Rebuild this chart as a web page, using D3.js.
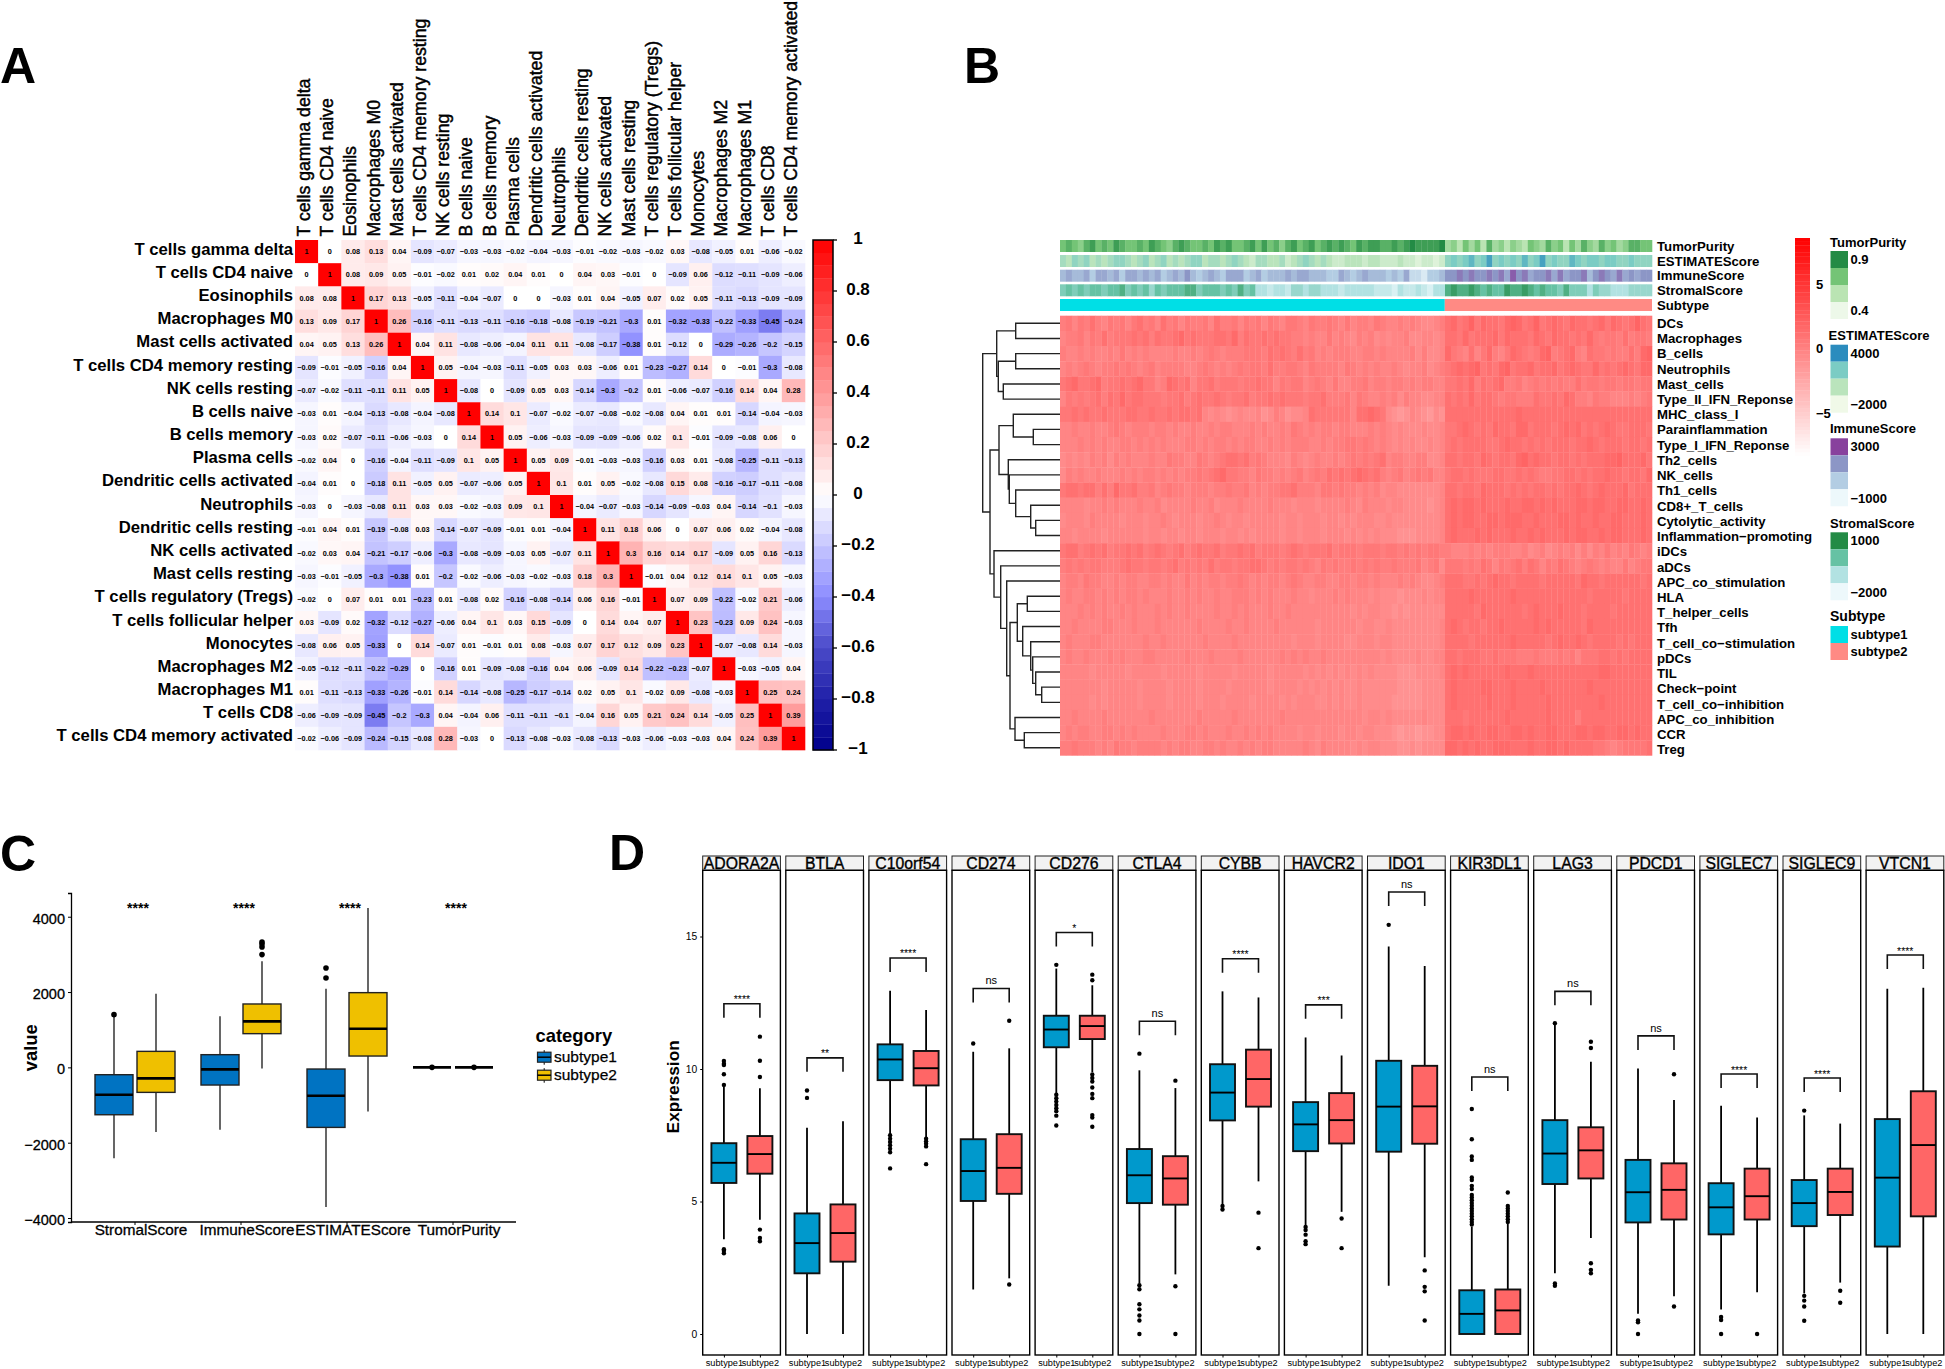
<!DOCTYPE html>
<html><head><meta charset="utf-8">
<script src="https://cdnjs.cloudflare.com/ajax/libs/d3/7.8.5/d3.min.js"></script>
<style>
html,body{margin:0;padding:0;background:#fff}
svg{display:block}
text{font-family:"Liberation Sans",Arial,sans-serif;fill:#000}
</style></head><body>
<svg id="chart" width="1945" height="1369"></svg>
<script>
// ---------- Panel A data ----------
const cellTypes=["T cells gamma delta","T cells CD4 naive","Eosinophils","Macrophages M0","Mast cells activated","T cells CD4 memory resting","NK cells resting","B cells naive","B cells memory","Plasma cells","Dendritic cells activated","Neutrophils","Dendritic cells resting","NK cells activated","Mast cells resting","T cells regulatory (Tregs)","T cells follicular helper","Monocytes","Macrophages M2","Macrophages M1","T cells CD8","T cells CD4 memory activated"];
const corrRows=[
[1,0,.08,.13,.04,-.09,-.07,-.03,-.03,-.02,-.04,-.03,-.01,-.02,-.03,-.02,.03,-.08,-.05,.01,-.06,-.02],
[0,1,.08,.09,.05,-.01,-.02,.01,.02,.04,.01,0,.04,.03,-.01,0,-.09,.06,-.12,-.11,-.09,-.06],
[.08,.08,1,.17,.13,-.05,-.11,-.04,-.07,0,0,-.03,.01,.04,-.05,.07,.02,.05,-.11,-.13,-.09,-.09],
[.13,.09,.17,1,.26,-.16,-.11,-.13,-.11,-.16,-.18,-.08,-.19,-.21,-.3,.01,-.32,-.33,-.22,-.33,-.45,-.24],
[.04,.05,.13,.26,1,.04,.11,-.08,-.06,-.04,.11,.11,-.08,-.17,-.38,.01,-.12,0,-.29,-.26,-.2,-.15],
[-.09,-.01,-.05,-.16,.04,1,.05,-.04,-.03,-.11,-.05,.03,.03,-.06,.01,-.23,-.27,.14,0,-.01,-.3,-.08],
[-.07,-.02,-.11,-.11,.11,.05,1,-.08,0,-.09,.05,.03,-.14,-.3,-.2,.01,-.06,-.07,-.16,.14,.04,.28],
[-.03,.01,-.04,-.13,-.08,-.04,-.08,1,.14,.1,-.07,-.02,-.07,-.08,-.02,-.08,.04,.01,.01,-.14,-.04,-.03],
[-.03,.02,-.07,-.11,-.06,-.03,0,.14,1,.05,-.06,-.03,-.09,-.09,-.06,.02,.1,-.01,-.09,-.08,.06,0],
[-.02,.04,0,-.16,-.04,-.11,-.09,.1,.05,1,.05,.09,-.01,-.03,-.03,-.16,.03,.01,-.08,-.25,-.11,-.13],
[-.04,.01,0,-.18,.11,-.05,.05,-.07,-.06,.05,1,.1,.01,.05,-.02,-.08,.15,.08,-.16,-.17,-.11,-.08],
[-.03,0,-.03,-.08,.11,.03,.03,-.02,-.03,.09,.1,1,-.04,-.07,-.03,-.14,-.09,-.03,.04,-.14,-.1,-.03],
[-.01,.04,.01,-.19,-.08,.03,-.14,-.07,-.09,-.01,.01,-.04,1,.11,.18,.06,0,.07,.06,.02,-.04,-.08],
[-.02,.03,.04,-.21,-.17,-.06,-.3,-.08,-.09,-.03,.05,-.07,.11,1,.3,.16,.14,.17,-.09,.05,.16,-.13],
[-.03,-.01,-.05,-.3,-.38,.01,-.2,-.02,-.06,-.03,-.02,-.03,.18,.3,1,-.01,.04,.12,.14,.1,.05,-.03],
[-.02,0,.07,.01,.01,-.23,.01,-.08,.02,-.16,-.08,-.14,.06,.16,-.01,1,.07,.09,-.22,-.02,.21,-.06],
[.03,-.09,.02,-.32,-.12,-.27,-.06,.04,.1,.03,.15,-.09,0,.14,.04,.07,1,.23,-.23,.09,.24,-.03],
[-.08,.06,.05,-.33,0,.14,-.07,.01,-.01,.01,.08,-.03,.07,.17,.12,.09,.23,1,-.07,-.08,.14,-.03],
[-.05,-.12,-.11,-.22,-.29,0,-.16,.01,-.09,-.08,-.16,.04,.06,-.09,.14,-.22,-.23,-.07,1,-.03,-.05,.04],
[.01,-.11,-.13,-.33,-.26,-.01,.14,-.14,-.08,-.25,-.17,-.14,.02,.05,.1,-.02,.09,-.08,-.03,1,.25,.24],
[-.06,-.09,-.09,-.45,-.2,-.3,.04,-.04,.06,-.11,-.11,-.1,-.04,.16,.05,.21,.24,.14,-.05,.25,1,.39],
[-.02,-.06,-.09,-.24,-.15,-.08,.28,-.03,0,-.13,-.08,-.03,-.08,-.13,-.03,-.06,-.03,-.03,.04,.24,.39,1]];
const corrTicks=[-1,-.8,-.6,-.4,-.2,0,.2,.4,.6,.8,1];

// ---------- Panel B data ----------
const geneSets=["DCs","Macrophages","B_cells","Neutrophils","Mast_cells","Type_II_IFN_Reponse","MHC_class_I","Parainflammation","Type_I_IFN_Reponse","Th2_cells","NK_cells","Th1_cells","CD8+_T_cells","Cytolytic_activity","Inflammation−promoting","iDCs","aDCs","APC_co_stimulation","HLA","T_helper_cells","Tfh","T_cell_co−stimulation","pDCs","TIL","Check−point","T_cell_co−inhibition","APC_co_inhibition","CCR","Treg"];
// hand-estimated shades along each row (0 pale .. 9 dark): subtype1 | subtype2
const heatRows=[
"56465754656467564756465564755646564654665465565464554654454543345|78679687768986796787687767868767976",
"45564657566676757667867666776857667676655454464543545343445334434|77686777868777687687767686566575665",
"54454544546454544445445456545556665767657564545554455454444535334|86547468546876568956785476656557589",
"45456545565654564555544565454565665755665465555465454544543445345|67878967689677867786787668676787688",
"67866785667678664587674667566656676646566456546445564554554545544|66768576785564565656557566566566566",
"46565675768677666566756766765667566767666566755564654454535443344|76768677656655576676875546554445456",
"66767667666776676676776743432343342354233476666664778763212432132|77777777777787777777777777777777777",
"44544544565455545545445445455444545445465454554554445454343334334|66787676877688677767878676787667776",
"44454545445545454544455454554545544545455544545566565454343433434|67677776678776767677767787677767767",
"34343545354544454465544654567767565444354345445456565674554455334|77677687677689787767767677788977786",
"35454454445454554545455656786655465545456456576767876754564565644|67767666776676765566776767787767768",
"67767757586675564565545554556556454556675554665655454534433333334|77677687776767677676778767877786777",
"44443445454445445344445445344454444544434443444454354443443333234|78788787778778878787778878877887787",
"34443544443444344543444344543443444443443444344343444334333333334|78788778878887787778878778778877787",
"44344443444444344344344344434434344443443444344434343433322233334|78777878777877878777878877878877787",
"67756767566767567656756766756676756665676566675666566656656565665|54445454555445345345453535464546545",
"56565665556766566567565657566566776565665654656556565655655564563|66656576465675764657654565454464566",
"45546554454554455454464545545565454554565445544554554544454543345|77766767877677776777776877677777767",
"45445545454554544454454544544555454544454434445454443433323334344|77778777777877777777777767777767777",
"44454545445454445454454444544545444544544444444443434433232333333|77777687777776787778777677776777777",
"44544445544454445444444544445445444454444443444444344334333333334|78767767787777787877777687777777777",
"45444554444444544544444454444544444444434443444433444344333333334|77776777777877777678778767777676777",
"45445444545444554444454445444454444445454544544444444434333343344|77677766766655565556564666776767777",
"44444344444344444344444344444344444344444343434343434333322233334|78787777778777877777777777887777777",
"44444443444443444434444344443444444344443434343433433333322223333|78777788777877778777777787777777777",
"44444343444443444434444344434444344443434443343433433333222223333|78777778777877777877777777877777777",
"44544445444444454444444544444544444445444444444444434434333334333|77767777778777777877775777777777777",
"45455445545454444544455454445445454544443443444344344333212212233|78878778877887877887778878877887877",
"55655545465545555454554455454454545544444543544443434433322323333|88787877888777877887877776654566667"];
const annotTumor="67657867687667687657876676878667868675786786787876878877878988889|45364637453543654756364754756457766";
const annotEstimate="43545343455434534534345534434543244334234543432233323322232212212|56567568565657568565576566566556555";
const annotImmune="45445355453554545345464345435553453444545544433543454443435221334|66767667675867566757566746765756566";
const annotStromal="56565665667565646566677566656575633233244344333233333222132232133|78778767668778767665755535443334444";
const subtypeLabels=["subtype1","subtype2"];
const subtypeCounts=[65,35];
// dendrogram: [merge height, left, right]; numbers at the tips index geneSets
const rowTree=[77.3,
 [63.3,[44.3,0,1],[61.7,[44.3,2,3],[56.7,4,5]]],
 [70,
  [61,[46.7,6,[26.7,7,8]],[51.7,9,[50.7,10,[44.3,11,[29.3,12,[24.3,13,14]]]]]],
  [66,15,[59.3,16,[53.3,17,[50,
    [42.7,[32.7,18,19],[37.3,20,[29.3,21,[27.3,22,[24.3,23,[18.3,24,25]]]]]],
    [45,26,[35.7,27,28]]]]]]]];
const heatLegendTicks=[5,0,-5];

// ---------- Panel C data ----------
const scoreCats=["StromalScore","ImmuneScore","ESTIMATEScore","TumorPurity"];
const scoreBox1=[[-2410,-1258,-726,-195,1355],[-1656,-469,-53,337,1355],[-3711,-1594,-753,-44,2090],[0,0,0,0,0]];
const scoreBox2=[[-1718,-664,-292,425,1957],[-27,895,1222,1683,2817],[-1169,301,1027,1984,4234],[0,0,0,0,0]];
const scoreOut1=[[1400],[],[2374,2640],[0]];
const scoreOut2=[[],[2994,3197,3277,3330],[],[0]];
const scoreSig=["****","****","****","****"];
const scoreTicks=[-4000,-2000,0,2000,4000];

// ---------- Panel D data ----------
const genes=["ADORA2A","BTLA","C10orf54","CD274","CD276","CTLA4","CYBB","HAVCR2","IDO1","KIR3DL1","LAG3","PDCD1","SIGLEC7","SIGLEC9","VTCN1"];
const exprSig=["****","**","****","ns","*","ns","****","***","ns","ns","ns","ns","****","****","****"];
const exprBracket=[12.46,10.42,14.19,13.04,15.15,11.8,14.16,12.42,16.68,9.7,12.93,11.25,9.81,9.66,14.3];
const exprBox1=[[3.58,5.7,6.46,7.2,9.35],[0,2.29,3.43,4.55,7.78],[7.53,9.58,10.36,10.93,12.95],[1.68,5.02,6.15,7.35,10.65],[9.09,10.82,11.49,12.01,13.79],[1.91,4.94,5.99,6.98,9.95],[4.89,8.06,9.11,10.18,12.93],[4.11,6.9,7.91,8.75,11.19],[1.82,6.88,8.58,10.31,14.62],[0,0,.76,1.65,4.05],[2.29,5.66,6.81,8.07,11.69],[.76,4.21,5.35,6.57,10.02],[.92,3.76,4.78,5.69,8.61],[1.53,4.07,4.94,5.81,8.25],[0,3.3,5.9,8.11,13.03]];
const exprBox2=[[4.31,6.05,6.79,7.47,9.27],[0,2.73,3.81,4.89,8.03],[7.41,9.38,10.03,10.68,12.23],[2.1,5.29,6.27,7.54,10.78],[9.88,11.13,11.62,12.01,13.16],[2.25,4.88,5.87,6.71,9.28],[5.76,8.58,9.62,10.73,12.7],[4.61,7.19,8.07,9.09,10.51],[2.9,7.18,8.59,10.12,13.89],[0,0,.89,1.68,4.19],[3.62,5.87,6.93,7.8,10.27],[1.42,4.32,5.44,6.44,8.83],[1.58,4.32,5.2,6.24,8.17],[1.94,4.49,5.36,6.24,7.94],[0,4.44,7.13,9.16,13.07]];
const exprOut1=[[10.3,10.2,10.15,9.8,9.4,3.2,3.14,3.05],[9.19,8.91],[7.5,7.37,7.25,7.12,6.99,6.86,6.25],[10.96],[13.93,9.03,8.9,8.77,8.64,8.52,8.41,8.24,7.87],[10.58,1.84,1.69,1.12,.93,.7,.51,0],[4.83,4.7],[4.04,3.92,3.75,3.5,3.39],[15.44],[8.49,7.35,6.7,6.57,5.91,5.81,5.59,5.47,5.25,5.15,5.05,4.94,4.84,4.74,4.64,4.54,4.44,4.33,4.23,4.13],[11.73,1.91,1.82],[.51,.44,0],[.64,.53,0],[8.43,1.44,1.26,1.04,.5],[]];
const exprOut2=[[11.22,10.31,9.7,3.94,3.62,3.5],[],[7.37,7.27,7.18,7.08,6.41],[11.82,1.87],[13.56,13.35,9.79,9.66,9.53,9.3,9.06,8.9,8.26,8.17,7.82],[9.56,1.8,0],[4.58,3.24],[4.36,3.24],[2.4,1.78,1.61,.51],[5.34,4.83,4.74,4.64,4.54,4.44,4.33,4.23],[11.03,10.79,2.67,2.42,2.29],[9.8,1.04],[0],[1.63,1.18],[]];
const exprTicks=[0,5,10,15];

const svg=d3.select("#chart");
const minus=v=>String(v).replace("-","−");

// panel letters
[["A",0,83],["B",964,83],["C",0,871],["D",609,870]].forEach(([t,x,y])=>
  svg.append("text").attr("x",x).attr("y",y).attr("font-size",50).attr("font-weight","bold").text(t));

// ================= Panel A =================
(function(){
  const g=svg.append("g");
  const x=d3.scaleBand().domain(d3.range(22)).range([295,805]);
  const y=d3.scaleBand().domain(d3.range(22)).range([240,750]);
  const col=d3.scaleLinear().domain([-1,-.8,-.6,-.4,0,1]).range(["#00008b","#2020a8","#4a4ac8","#8c8cff","#ffffff","#ff0000"]);
  corrRows.forEach((r,i)=>r.forEach((v,j)=>{
    g.append("rect").attr("x",x(j)).attr("y",y(i)).attr("width",x.bandwidth()+.3).attr("height",y.bandwidth()+.3).attr("fill",col(v));
    g.append("text").attr("x",x(j)+x.bandwidth()/2).attr("y",y(i)+y.bandwidth()/2+2.6).attr("text-anchor","middle")
      .attr("font-size",7.3).attr("font-weight","bold").text(minus(v));
  }));
  cellTypes.forEach((c,i)=>{
    g.append("text").attr("x",293).attr("y",y(i)+y.bandwidth()/2+3).attr("text-anchor","end")
      .attr("font-size",16.7).attr("font-weight","bold").text(c);
    g.append("text").attr("transform",`translate(${x(i)+x.bandwidth()/2+3.5},236.5) rotate(-90)`)
      .attr("font-size",17.7).attr("stroke","#000").attr("stroke-width",.45).text(c);
  });
  // colour bar
  const by=d3.scaleLinear().domain([-1,1]).range([750,240]);
  d3.range(-1,1,.05).forEach(v=>{
    g.append("rect").attr("x",813).attr("y",by(v+.05)).attr("width",20).attr("height",by(v)-by(v+.05)+.3).attr("fill",col(v+.025));
  });
  g.append("rect").attr("x",813).attr("y",240).attr("width",20).attr("height",510).attr("fill","none").attr("stroke","#000").attr("stroke-width",1.5);
  corrTicks.forEach(t=>{
    g.append("line").attr("x1",833).attr("x2",837).attr("y1",by(t)).attr("y2",by(t)).attr("stroke","#000").attr("stroke-width",1.3);
    g.append("text").attr("x",858).attr("y",by(t)+3.8).attr("text-anchor","middle").attr("font-size",17).attr("font-weight","bold").text(minus(t));
  });
})();

// ================= Panel B =================
(function(){
  const g=svg.append("g");
  const left=1060,split=1445,right=1652;
  const y=d3.scaleBand().domain(d3.range(29)).range([315.7,755.4]);
  const labelY=d3.scaleBand().domain(d3.range(29)).range([315.7,757.4]);
  const heatCol=d3.scaleLinear().domain([-8.27,8.6]).range(["#ffffff","#ff0000"]);
  const digitToValue=d3.scaleLinear().domain([0,1,9]).range([-5,-1.5,2]);
  function strip(str,draw){
    str.split("|").forEach((part,k)=>{
      const bx=d3.scaleBand().domain(d3.range(part.length)).range(k===0?[left,split]:[split,right]);
      part.split("").forEach((d,i)=>draw(bx(i),bx.bandwidth(),+d));
    });
  }
  heatRows.forEach((str,i)=>{
    strip(str,(xx,w,d)=>g.append("rect").attr("x",xx).attr("y",y(i)).attr("width",w+.3).attr("height",y.bandwidth()+.3).attr("fill",heatCol(digitToValue(d))));
  });
  const tracks=[
    {name:"TumorPurity",s:annotTumor,c:d3.schemeGreens[4],y:240,ext:[.3,1]},
    {name:"ESTIMATEScore",s:annotEstimate,c:d3.schemeGnBu[4],y:255,ext:[-2500,4500]},
    {name:"ImmuneScore",s:annotImmune,c:d3.schemeBuPu[4],y:269.7,ext:[-1500,3500]},
    {name:"StromalScore",s:annotStromal,c:d3.schemeBuGn[4],y:284.3,ext:[-2500,2000]}];
  tracks.forEach(t=>{
    const dv=d3.scaleLinear().domain([0,9]).range(t.ext);
    const cs=d3.scaleLinear().domain(d3.range(4).map(i=>t.ext[0]+(t.ext[1]-t.ext[0])*i/3)).range(t.c);
    strip(t.s,(xx,w,d)=>g.append("rect").attr("x",xx).attr("y",t.y).attr("width",w+.3).attr("height",12).attr("fill",cs(dv(d))));
  });
  const subColors=["#00dfe6","#ff8a84"];
  const total=d3.sum(subtypeCounts);
  const sx=d3.scaleLinear().domain([0,total]).range([left,right]);
  let acc=0;
  subtypeCounts.forEach((n,i)=>{
    g.append("rect").attr("x",sx(acc)).attr("y",299).attr("width",sx(n)-sx(0)).attr("height",12).attr("fill",subColors[i]);
    acc+=n;
  });
  const lab=(t,yy)=>g.append("text").attr("x",1657).attr("y",yy).attr("font-size",13.2).attr("font-weight","bold").text(t);
  tracks.forEach(t=>lab(t.name,t.y+10.5));
  lab("Subtype",309.5);
  geneSets.forEach((s,i)=>lab(s,labelY(i)+labelY.bandwidth()/2+4.5));
  // dendrogram
  const dx=d3.scaleLinear().domain([0,77.3]).range([1060,982.7]);
  const root=d3.hierarchy(rowTree,d=>Array.isArray(d)?d.slice(1):null);
  root.eachAfter(n=>{
    if(!n.children){n.px=dx(0);n.py=y(n.data)+y.bandwidth()/2;}
    else{n.px=dx(n.data[0]);n.py=d3.mean(n.children,c=>c.py);}
  });
  root.each(n=>{ if(n.children){
    const [a,b]=n.children;
    g.append("path").attr("d",`M${a.px},${a.py}H${n.px}V${b.py}H${b.px}`).attr("fill","none").attr("stroke","#222").attr("stroke-width",1.4);
  }});
  // continuous bar
  const by=d3.scaleLinear().domain([-8.27,8.6]).range([455.7,238]);
  d3.range(0,60).forEach(i=>{
    const v0=-8.27+i*16.87/60,v1=v0+16.87/60;
    g.append("rect").attr("x",1795).attr("y",by(v1)).attr("width",15).attr("height",by(v0)-by(v1)+.3).attr("fill",heatCol((v0+v1)/2));
  });
  heatLegendTicks.forEach(t=>g.append("text").attr("x",1816).attr("y",by(t)+4.5).attr("font-size",13).attr("font-weight","bold").text(minus(t)));
  // annotation legends
  const legends=[
    {title:"TumorPurity",tx:1830,ty:246.7,sy:251,c:d3.schemeGreens[4],labels:["0.9","0.4"]},
    {title:"ESTIMATEScore",tx:1828.6,ty:340,sy:344.7,c:d3.schemeGnBu[4],labels:["4000","−2000"]},
    {title:"ImmuneScore",tx:1830,ty:433,sy:438.3,c:d3.schemeBuPu[4],labels:["3000","−1000"]},
    {title:"StromalScore",tx:1830,ty:527.7,sy:532.3,c:d3.schemeBuGn[4],labels:["1000","−2000"]}];
  legends.forEach(l=>{
    g.append("text").attr("x",l.tx).attr("y",l.ty).attr("font-size",13).attr("font-weight","bold").text(l.title);
    [3,2,1,0].forEach((k,i)=>g.append("rect").attr("x",1830.5).attr("y",l.sy+17*i).attr("width",17.5).attr("height",17).attr("fill",l.c[k]));
    g.append("text").attr("x",1850.5).attr("y",l.sy+8.3+4.5).attr("font-size",13).attr("font-weight","bold").text(l.labels[0]);
    g.append("text").attr("x",1850.5).attr("y",l.sy+59.7+4.5).attr("font-size",13).attr("font-weight","bold").text(l.labels[1]);
  });
  g.append("text").attr("x",1830).attr("y",620.7).attr("font-size",14).attr("font-weight","bold").text("Subtype");
  subtypeLabels.forEach((s,i)=>{
    g.append("rect").attr("x",1830.5).attr("y",626+17*i).attr("width",17.5).attr("height",17).attr("fill",subColors[i]);
    g.append("text").attr("x",1850.5).attr("y",638.8+17*i).attr("font-size",13).attr("font-weight","bold").text(s);
  });
})();

// ================= Panel C =================
(function(){
  const g=svg.append("g");
  const y=d3.scaleLinear().domain([-4106,4630]).range([1222,893]);
  const x=d3.scaleBand().domain(scoreCats).range([82,506]);
  const colors=["#0073C2","#EFC000"];
  const yAxis=g.append("g").attr("transform","translate(71,0)").call(d3.axisLeft(y).tickValues(scoreTicks).tickSize(3).tickFormat(minus));
  yAxis.selectAll("text").attr("font-size",14.5).attr("dy","0.45em").style("font-family","Liberation Sans").attr("stroke","#000").attr("stroke-width",.3);
  yAxis.select(".domain").attr("stroke-width",1.3);
  const xAxis=g.append("g").attr("transform","translate(0,1222)").call(d3.axisBottom(x).tickSize(3).tickSizeOuter(0));
  xAxis.select(".domain").attr("d","M71,0H516").attr("stroke-width",1.3);
  xAxis.selectAll("text").attr("font-size",15.3).attr("dx",6).attr("dy",7).style("font-family","Liberation Sans").attr("stroke","#000").attr("stroke-width",.3);
  g.append("text").attr("transform","translate(37,1047.7) rotate(-90)").attr("text-anchor","middle").attr("font-size",18.4).attr("font-weight","bold").text("value");
  const w=38,off=21;
  scoreCats.forEach((c,i)=>{
    const cx=x(c)+x.bandwidth()/2;
    [[scoreBox1,scoreOut1,-off,0],[scoreBox2,scoreOut2,off,1]].forEach(([B,O,d,k])=>{
      const b=B[i],xx=cx+d;
      g.append("line").attr("x1",xx).attr("x2",xx).attr("y1",y(b[0])).attr("y2",y(b[4])).attr("stroke","#000").attr("stroke-width",1.2);
      g.append("rect").attr("x",xx-w/2).attr("y",y(b[3])).attr("width",w).attr("height",y(b[1])-y(b[3])).attr("fill",colors[k]).attr("stroke","#222").attr("stroke-width",1.4);
      g.append("line").attr("x1",xx-w/2).attr("x2",xx+w/2).attr("y1",y(b[2])).attr("y2",y(b[2])).attr("stroke","#000").attr("stroke-width",2.6);
      O[i].forEach(v=>g.append("circle").attr("cx",xx).attr("cy",y(v)).attr("r",2.8).attr("fill","#000"));
    });
    g.append("text").attr("x",cx+3).attr("y",913).attr("text-anchor","middle").attr("font-size",14).attr("font-weight","bold").text(scoreSig[i]);
  });
  // legend
  g.append("text").attr("x",535.5).attr("y",1042).attr("font-size",18.4).attr("font-weight","bold").text("category");
  ["subtype1","subtype2"].forEach((s,i)=>{
    const yy=1056.7+18*i;
    g.append("line").attr("x1",544.2).attr("x2",544.2).attr("y1",yy-6.5).attr("y2",yy+8).attr("stroke","#000").attr("stroke-width",1);
    g.append("rect").attr("x",537.5).attr("y",yy-4.5).attr("width",13.5).attr("height",10).attr("fill",colors[i]).attr("stroke","#222").attr("stroke-width",1.2);
    g.append("line").attr("x1",537.5).attr("x2",551).attr("y1",yy+.5).attr("y2",yy+.5).attr("stroke","#000").attr("stroke-width",1.5);
    g.append("text").attr("x",554).attr("y",yy+5).attr("font-size",15.5).attr("stroke","#000").attr("stroke-width",.25).text(s);
  });
})();

// ================= Panel D =================
(function(){
  const g=svg.append("g");
  const y=d3.scaleLinear().domain([0,15]).range([1334,936.5]);
  const pw=77.7;
  const top=870.3,bottom=1355;
  const colors=["#0099CC","#FF6666"];
  genes.forEach((gene,i)=>{
    const p=702.7+83.1*i;
    const x=d3.scalePoint().domain(["subtype1","subtype2"]).range([p+21.2,p+57.2]);
    g.append("rect").attr("x",p).attr("y",856).attr("width",pw).attr("height",top-856).attr("fill","#f2f2f2").attr("stroke","#222").attr("stroke-width",1);
    g.append("text").attr("x",p+pw/2).attr("y",869).attr("text-anchor","middle").attr("font-size",15.8).attr("stroke","#000").attr("stroke-width",.35).text(gene);
    g.append("rect").attr("x",p).attr("y",top).attr("width",pw).attr("height",bottom-top).attr("fill","#fff").attr("stroke","#000").attr("stroke-width",1.4);
    [exprBox1,exprBox2].forEach((B,k)=>{
      const b=B[i],xx=x(k?"subtype2":"subtype1"),w=25;
      g.append("line").attr("x1",xx).attr("x2",xx).attr("y1",y(b[0])).attr("y2",y(b[4])).attr("stroke","#000").attr("stroke-width",1.8);
      g.append("rect").attr("x",xx-w/2).attr("y",y(b[3])).attr("width",w).attr("height",y(b[1])-y(b[3])).attr("fill",colors[k]).attr("stroke","#111").attr("stroke-width",1.9);
      g.append("line").attr("x1",xx-w/2).attr("x2",xx+w/2).attr("y1",y(b[2])).attr("y2",y(b[2])).attr("stroke","#000").attr("stroke-width",1.9);
      (k?exprOut2:exprOut1)[i].forEach(v=>g.append("circle").attr("cx",xx).attr("cy",y(v)).attr("r",2.2).attr("fill","#000"));
    });
    const x1=x("subtype1"),x2=x("subtype2"),by=y(exprBracket[i]);
    g.append("path").attr("d",`M${x1},${by+14}V${by}H${x2}V${by+14}`).attr("fill","none").attr("stroke","#111").attr("stroke-width",1.6);
    const ns=exprSig[i]==="ns";
    g.append("text").attr("x",(x1+x2)/2).attr("y",by-(ns?4:.5)).attr("text-anchor","middle").attr("font-size",ns?11:10.5).text(exprSig[i]);
    const ax=g.append("g").attr("transform",`translate(0,${bottom})`).call(d3.axisBottom(x).tickSize(2.5));
    ax.select(".domain").remove();
    ax.selectAll("text").attr("font-size",9.2).attr("dy",5).style("font-family","Liberation Sans").style("fill","#000");
  });
  const ya=g.append("g").attr("transform","translate(702.7,0)").call(d3.axisLeft(y).tickValues(exprTicks).tickSize(2.5));
  ya.select(".domain").remove();
  ya.selectAll("text").attr("font-size",10.3).style("font-family","Liberation Sans").style("fill","#000");
  g.append("text").attr("transform","translate(679,1086.8) rotate(-90)").attr("text-anchor","middle").attr("font-size",17.3).attr("font-weight","bold").text("Expression");
})();
</script>
</body></html>
